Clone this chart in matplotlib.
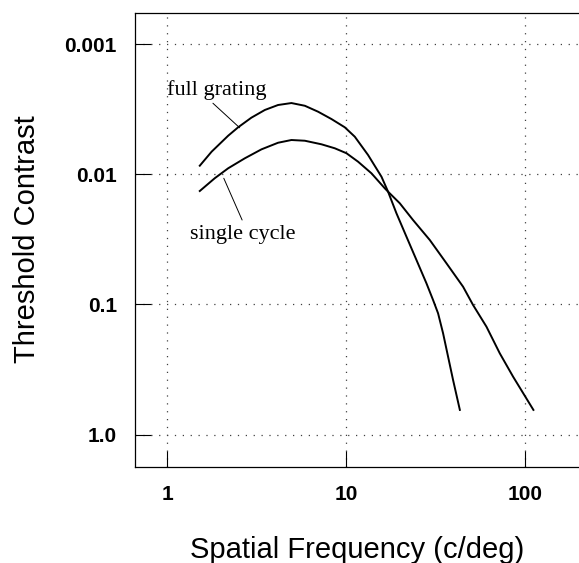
import matplotlib
matplotlib.use("Agg")
import matplotlib.pyplot as plt
from matplotlib.ticker import FixedLocator, FixedFormatter, NullLocator

# ---- data ----
freq_full = [1.52, 1.77, 2.19, 2.49, 2.95, 3.51, 4.16, 4.94, 5.87, 6.96, 8.27,
             9.81, 11.16, 13.24, 15.73, 17.12, 19.07, 21.69, 24.67, 28.05,
             30.54, 32.57, 34.74, 37.05, 39.5, 43.1]
thr_full = [0.0086, 0.00671, 0.00506, 0.00436, 0.00368, 0.00321, 0.00294,
            0.00284, 0.00298, 0.00331, 0.00377, 0.00436, 0.00515, 0.00712,
            0.01045, 0.01361, 0.01995, 0.03017, 0.04557, 0.0688, 0.0924,
            0.1169, 0.1665, 0.2519, 0.380, 0.645]

freq_single = [1.52, 1.84, 2.19, 2.71, 3.36, 4.16, 4.94, 5.87, 7.27, 8.63,
               10.03, 11.64, 13.83, 16.41, 17.12, 19.9, 23.6, 29.28, 36.29,
               44.94, 51.1, 60.7, 72.0, 85.5, 111.0]
thr_single = [0.01345, 0.01075, 0.0090, 0.00755, 0.00644, 0.00573, 0.00546,
              0.00553, 0.00589, 0.00632, 0.0069, 0.00801, 0.00984, 0.01282,
              0.01361, 0.0167, 0.02246, 0.03199, 0.0483, 0.0731, 0.101,
              0.1482, 0.237, 0.3587, 0.645]

x_ticks = [1, 10, 100]
x_ticklabels = ["1", "10", "100"]
y_ticks = [0.001, 0.01, 0.1, 1.0]
y_ticklabels = ["0.001", "0.01", "0.1", "1.0"]

label_full = "full grating"
label_single = "single cycle"

W, H = 579, 563
fig = plt.figure(figsize=(W / 100, H / 100), dpi=100)
ax = fig.add_axes([135 / W, 1 - 467 / H, (579 - 135) / W, (467 - 13) / H])

ax.set_xscale("log")
ax.set_yscale("log")
ax.set_xlim(10 ** -0.18, 10 ** 2.30)
ax.set_ylim(1.77, 0.000578)  # inverted: small contrast at top

ax.plot(freq_full, thr_full, color="black", lw=1.4, solid_joinstyle="round")
ax.plot(freq_single, thr_single, color="black", lw=1.4, solid_joinstyle="round")

# annotations
serif = ["Liberation Serif", "DejaVu Serif"]
ax.text(1.0, 0.00247, label_full, family=serif, fontsize=16,
        ha="left", va="baseline")
ax.annotate("", xy=(2.54, 0.0044), xytext=(1.80, 0.00285),
            arrowprops=dict(arrowstyle="-", lw=0.7, color="black",
                            shrinkA=0, shrinkB=0))
ax.text(1.34, 0.0314, label_single, family=serif, fontsize=16,
        ha="left", va="baseline")
ax.annotate("", xy=(2.07, 0.01074), xytext=(2.62, 0.02246),
            arrowprops=dict(arrowstyle="-", lw=0.7, color="black",
                            shrinkA=0, shrinkB=0))

# ticks
ax.xaxis.set_major_locator(FixedLocator(x_ticks))
ax.xaxis.set_major_formatter(FixedFormatter(x_ticklabels))
ax.yaxis.set_major_locator(FixedLocator(y_ticks))
ax.yaxis.set_major_formatter(FixedFormatter(y_ticklabels))
ax.xaxis.set_minor_locator(NullLocator())
ax.yaxis.set_minor_locator(NullLocator())
ax.tick_params(axis="both", which="major", direction="in", length=11.5,
               width=0.8, pad=13, labelsize=15, top=False, right=False)
for lab in ax.get_xticklabels() + ax.get_yticklabels():
    lab.set_family(["Liberation Sans", "DejaVu Sans"])
    lab.set_fontweight("bold")

ax.grid(True, which="major", color="0.25", lw=0.9, linestyle=(0, (1, 5.3)))
ax.set_axisbelow(True)

for side in ["left", "bottom", "top"]:
    ax.spines[side].set_linewidth(0.9)
ax.spines["right"].set_visible(False)

sans = ["Liberation Sans", "DejaVu Sans"]
fig.text(357 / W, 1 - 558 / H, "Spatial Frequency (c/deg)", family=sans,
         fontsize=21, ha="center", va="baseline")
fig.text(35 / W, 1 - 239 / H, "Threshold Contrast", family=sans,
         fontsize=21, ha="center", va="baseline", rotation=90,
         rotation_mode="anchor")

fig.savefig("out.png", dpi=100)
